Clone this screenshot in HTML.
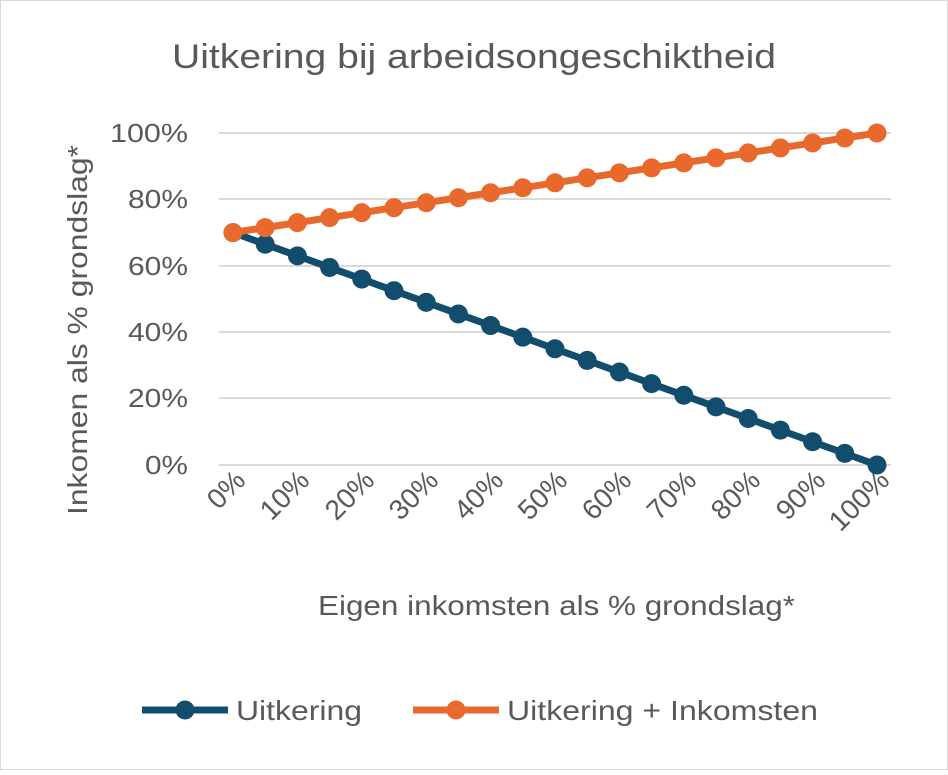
<!DOCTYPE html>
<html><head><style>body{margin:0;background:#fff}</style></head><body>
<svg width="948" height="770" xmlns="http://www.w3.org/2000/svg" font-family="Liberation Sans, sans-serif">
<rect x="0.5" y="0.5" width="947" height="769" fill="#fff" stroke="#d9d9d9"/>
<text x="172" y="68" font-size="34" fill="#595959" textLength="604" lengthAdjust="spacingAndGlyphs">Uitkering bij arbeidsongeschiktheid</text>
<g stroke="#d9d9d9" stroke-width="2">
<line x1="219" x2="891" y1="133" y2="133"/><line x1="219" x2="891" y1="199" y2="199"/>
<line x1="219" x2="891" y1="266" y2="266"/><line x1="219" x2="891" y1="332" y2="332"/>
<line x1="219" x2="891" y1="398" y2="398"/><line x1="219" x2="891" y1="465" y2="465"/>
</g>
<g font-size="26" fill="#595959" text-anchor="end">
<text x="188" y="142" textLength="78" lengthAdjust="spacingAndGlyphs">100%</text>
<text x="188" y="208" textLength="60" lengthAdjust="spacingAndGlyphs">80%</text>
<text x="188" y="275" textLength="60" lengthAdjust="spacingAndGlyphs">60%</text>
<text x="188" y="341" textLength="60" lengthAdjust="spacingAndGlyphs">40%</text>
<text x="188" y="407" textLength="60" lengthAdjust="spacingAndGlyphs">20%</text>
<text x="188" y="474" textLength="43" lengthAdjust="spacingAndGlyphs">0%</text>
</g>
<text transform="translate(87,330) rotate(-90)" text-anchor="middle" font-size="28" fill="#595959" textLength="370" lengthAdjust="spacingAndGlyphs">Inkomen als % grondslag*</text>
<g font-size="28" fill="#595959" text-anchor="end">
<text transform="translate(247,482) rotate(-45)">0%</text>
<text transform="translate(311,482) rotate(-45)">10%</text>
<text transform="translate(376,482) rotate(-45)">20%</text>
<text transform="translate(440,482) rotate(-45)">30%</text>
<text transform="translate(505,482) rotate(-45)">40%</text>
<text transform="translate(569,482) rotate(-45)">50%</text>
<text transform="translate(633,482) rotate(-45)">60%</text>
<text transform="translate(698,482) rotate(-45)">70%</text>
<text transform="translate(762,482) rotate(-45)">80%</text>
<text transform="translate(827,482) rotate(-45)">90%</text>
<text transform="translate(891,482) rotate(-45)">100%</text>
</g>
<text x="318" y="615" font-size="28" fill="#595959" textLength="477" lengthAdjust="spacingAndGlyphs">Eigen inkomsten als % grondslag*</text>
<g id="s"></g>
<script>
var g=document.getElementById('s'),ns='http://www.w3.org/2000/svg';
function series(f,c){var p='';var pts=[];for(var i=0;i<=20;i++){var t=i/20,x=233+644*t,y=465-f(t)*332;pts.push([x,y]);p+=(i?'L':'M')+x+' '+y;}
var pa=document.createElementNS(ns,'path');pa.setAttribute('d',p);pa.setAttribute('stroke',c);pa.setAttribute('stroke-width','7');pa.setAttribute('fill','none');g.appendChild(pa);
pts.forEach(function(q){var ci=document.createElementNS(ns,'circle');ci.setAttribute('cx',q[0]);ci.setAttribute('cy',q[1]);ci.setAttribute('r','9.5');ci.setAttribute('fill',c);g.appendChild(ci);});}
series(function(t){return 0.7-0.7*t},'#124d6e');
series(function(t){return 0.7+0.3*t},'#e8692b');
</script>
<line x1="142" x2="228" y1="710" y2="710" stroke="#124d6e" stroke-width="7"/><circle cx="185" cy="710" r="9.5" fill="#124d6e"/>
<text x="236" y="720" font-size="28" fill="#595959" textLength="126" lengthAdjust="spacingAndGlyphs">Uitkering</text>
<line x1="413" x2="499" y1="710" y2="710" stroke="#e8692b" stroke-width="7"/><circle cx="456" cy="710" r="9.5" fill="#e8692b"/>
<text x="507" y="720" font-size="28" fill="#595959" textLength="311" lengthAdjust="spacingAndGlyphs">Uitkering + Inkomsten</text>
</svg>
</body></html>
